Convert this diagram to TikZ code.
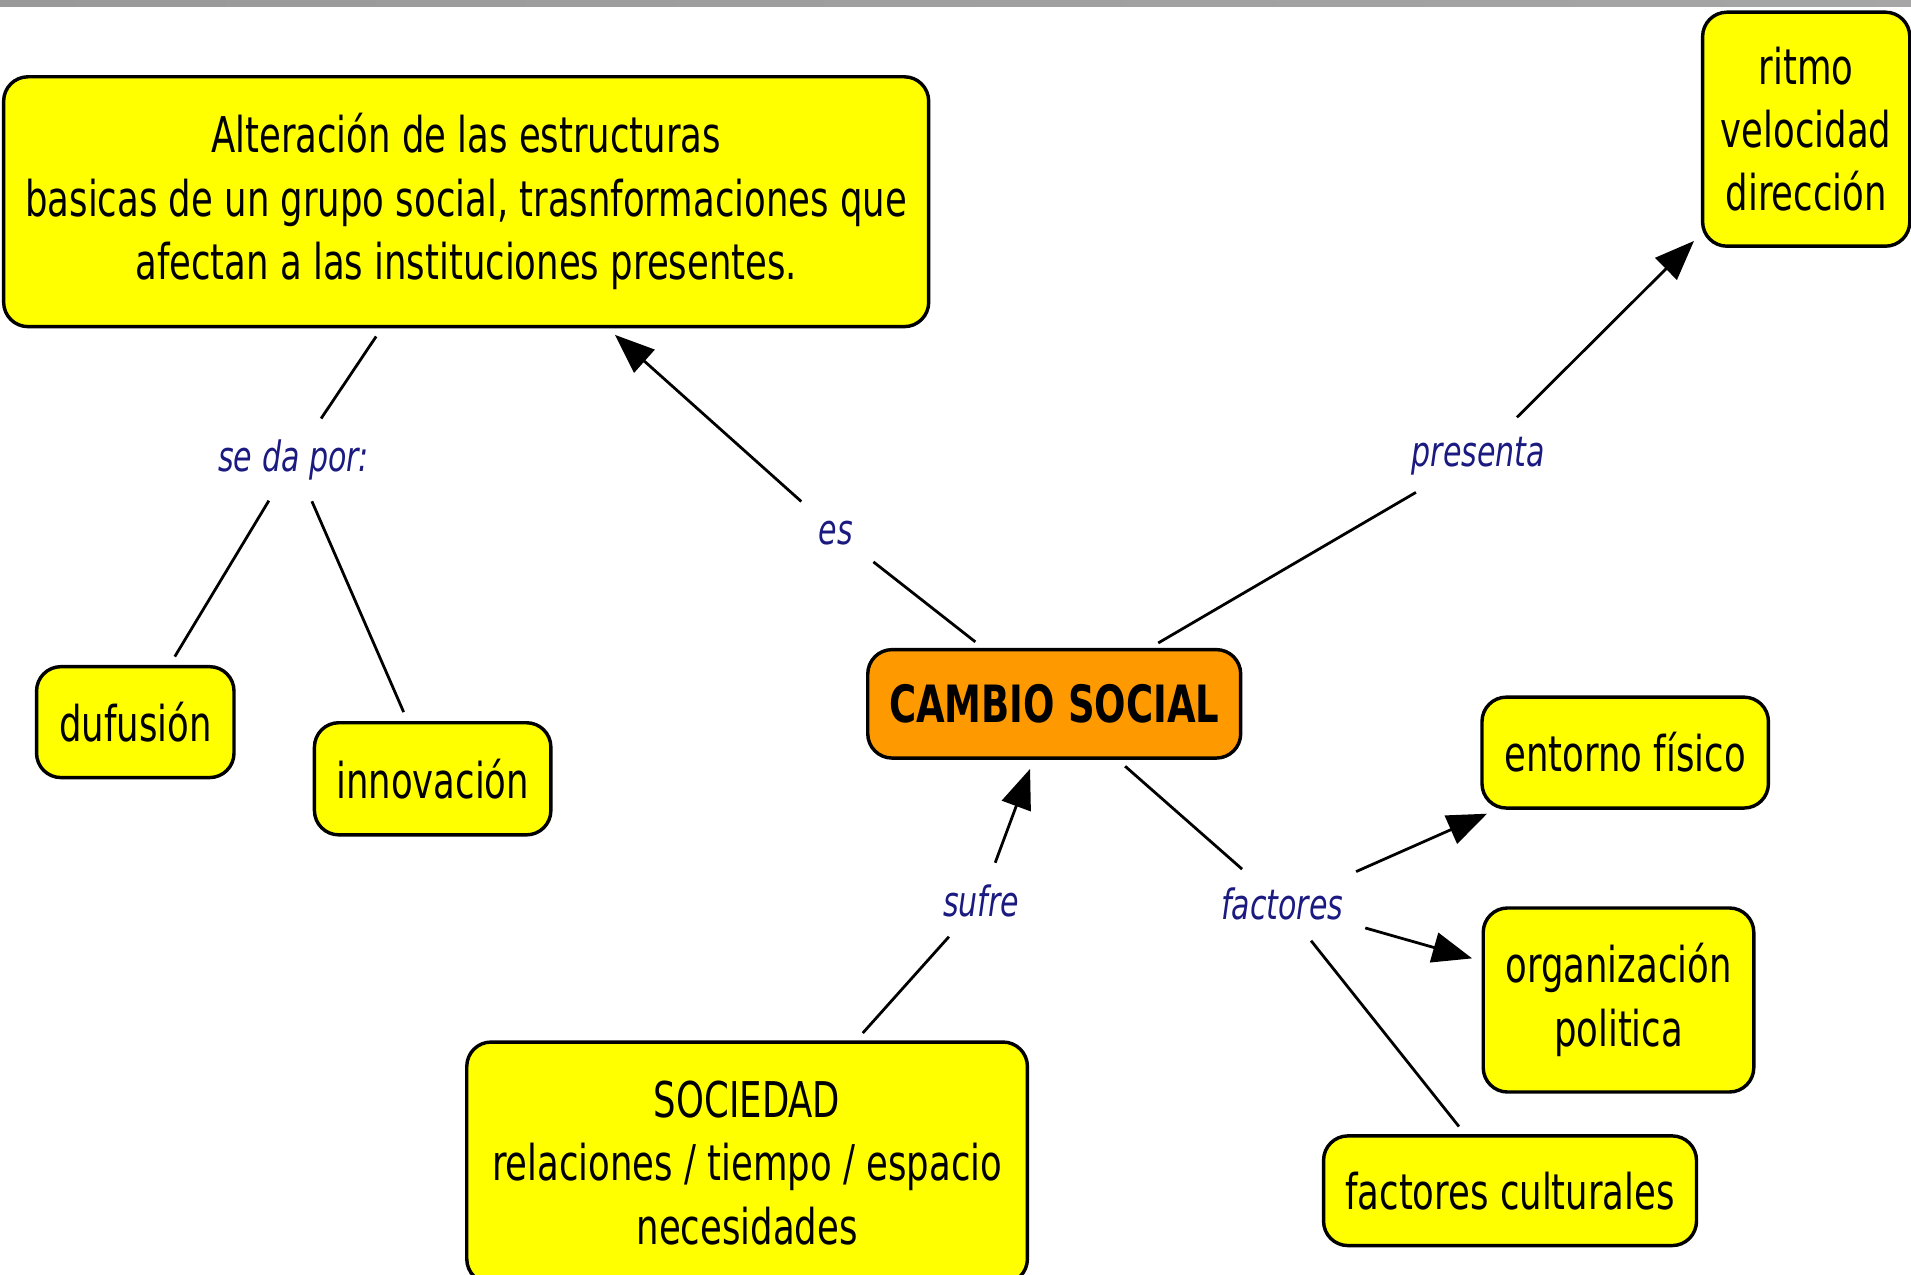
\documentclass[tikz,border=0pt]{standalone}
\usepackage{fontspec}
\setmainfont{DejaVu Sans}[FakeStretch=0.72]
\usetikzlibrary{arrows.meta, positioning}
\definecolor{mapyellow}{HTML}{FFFF00}
\definecolor{maporange}{HTML}{FF9900}
\definecolor{mapnavy}{HTML}{1A1A80}

\begin{document}
\begin{tikzpicture}[x=0.2mm, y=-0.2mm,
    conceptbox/.style={draw, line width=1.6pt, rounded corners=4mm, fill=mapyellow, align=center, inner sep=0pt, font=\fontsize{23}{29.6}\selectfont},
    rootbox/.style={conceptbox, fill=maporange, font=\fontsize{24}{29.6}\selectfont\bfseries},
    linklabel/.style={text=mapnavy, inner sep=2mm, font=\fontsize{19.5}{22}\selectfont\itshape},
    linkline/.style={line width=1.3pt, shorten <=1.6mm, shorten >=1.6mm},
    linkarrow/.style={linkline, -{Triangle[length=6.5mm, width=5mm]}}
]
\useasboundingbox (0,0) rectangle (1568,1046);
% top bar
\shade[left color=gray!80, middle color=gray!10, right color=gray!70] (0,0) rectangle (1568,5);

% Concepts
\node[conceptbox, minimum width=151.8mm, minimum height=41mm] (alter) at (382.5,165.5)
    {Alteración de las estructuras\\basicas de un grupo social, trasnformaciones que\\afectan a las instituciones presentes.};
\node[conceptbox, minimum width=34mm, minimum height=38.4mm] (ritmo) at (1482,106) {ritmo\\velocidad\\dirección};
\node[rootbox, minimum width=61.2mm, minimum height=17.8mm] (cambio) at (865,577.5) {CAMBIO SOCIAL};
\node[conceptbox, minimum width=32.4mm, minimum height=18.2mm] (dufusion) at (111,592.5) {dufusión};
\node[conceptbox, minimum width=38.8mm, minimum height=18.4mm] (innov) at (355,639) {innovación};
\node[conceptbox, minimum width=47mm, minimum height=18.2mm] (entorno) at (1333.5,617.5) {entorno físico};
\node[conceptbox, minimum width=44.4mm, minimum height=30.2mm] (organiz) at (1328,820.5) {organización\\politica};
\node[conceptbox, minimum width=61.2mm, minimum height=18mm] (cultur) at (1239,977) {factores culturales};
\node[conceptbox, minimum width=92mm, minimum height=39.6mm] (sociedad) at (613,954)
    {SOCIEDAD\\relaciones / tiempo / espacio\\necesidades};

% Linking phrases
\node[linklabel] (sedapor) at (241,377) {se da por:};
\node[linklabel] (es) at (686,437) {es};
\node[linklabel] (presenta) at (1213,374) {presenta};
\node[linklabel] (sufre) at (805,739) {sufre};
\node[linklabel] (factores) at (1052,742) {factores};

% Connections
\draw[linkline] (alter) -- (sedapor);
\draw[linkline] (sedapor) -- (dufusion);
\draw[linkline] (sedapor) -- (innov);
\draw[linkline] (cambio) -- (es);
\draw[linkarrow] (es) -- (alter);
\draw[linkline] (cambio) -- (presenta);
\draw[linkarrow] (presenta) -- (ritmo);
\draw[linkline] (sociedad) -- (sufre);
\draw[linkarrow] (sufre) -- (cambio);
\draw[linkline] (cambio) -- (factores);
\draw[linkarrow] (factores) -- (entorno);
\draw[linkarrow] (factores) -- (organiz);
\draw[linkline] (factores) -- (cultur);
\end{tikzpicture}
\end{document}
